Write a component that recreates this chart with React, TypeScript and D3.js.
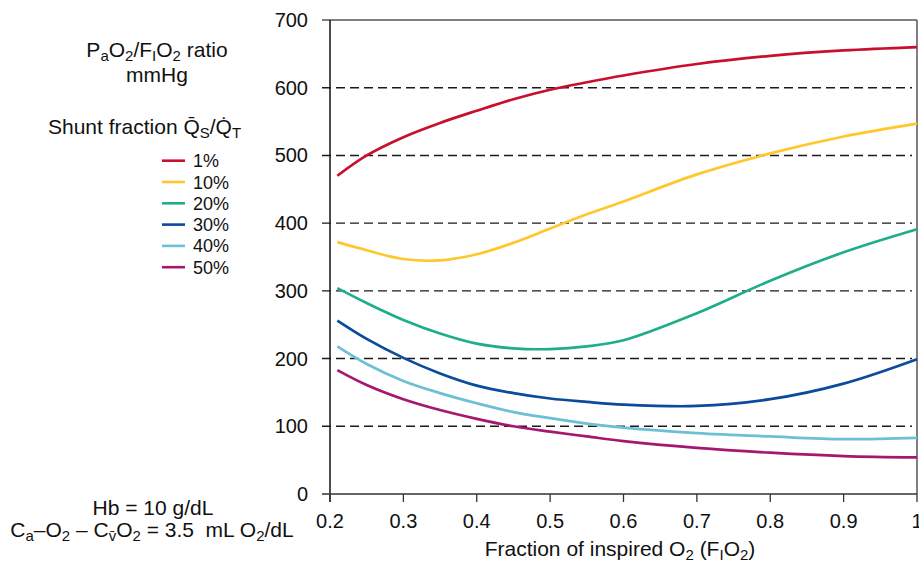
import React from "react";
import * as d3 from "d3";

// FiO2 sample points where the curves were read
const fio2 = [0.21, 0.25, 0.3, 0.35, 0.4, 0.45, 0.5, 0.55, 0.6, 0.7, 0.8, 0.9, 1.0];

// PaO2/FiO2 ratio (mmHg) read per shunt fraction
const shunt1 = [470, 500, 527, 548, 566, 583, 597, 608, 618, 635, 647, 655, 660];
const shunt10 = [372, 360, 347, 345, 354, 371, 392, 413, 432, 472, 503, 528, 547];
const shunt20 = [304, 282, 257, 237, 222, 215, 214, 218, 227, 267, 315, 357, 391];
const shunt30 = [256, 229, 201, 178, 160, 149, 141, 136, 132, 130, 140, 163, 199];
const shunt40 = [218, 192, 167, 149, 134, 121, 112, 104, 98, 90, 85, 81, 83];
const shunt50 = [183, 161, 140, 124, 111, 100, 92, 85, 78, 68, 61, 56, 54];

const seriesLabels = ["1%", "10%", "20%", "30%", "40%", "50%"];
const seriesValues = [shunt1, shunt10, shunt20, shunt30, shunt40, shunt50];
const seriesColors = ["#c8102e", "#ffc72c", "#1fae8a", "#0b4a9c", "#6cc0d6", "#a6176f"];

const xTicks = [0.2, 0.3, 0.4, 0.5, 0.6, 0.7, 0.8, 0.9, 1];
const yTicks = [0, 100, 200, 300, 400, 500, 600, 700];
const gridValues = [100, 200, 300, 400, 500, 600];

const W = 919;
const H = 563;
const font = "'Liberation Sans', Arial, Helvetica, sans-serif";
const sub = 15;

export default function App() {
  const x = d3.scaleLinear().domain([0.2, 1]).range([330, 917]);
  const y = d3.scaleLinear().domain([0, 700]).range([494, 20]);

  const line = d3
    .line<[number, number]>()
    .x((d) => x(d[0]))
    .y((d) => y(d[1]))
    .curve(d3.curveCatmullRom.alpha(0.5));

  const xLeft = x(0.2) - 8;
  const xRight = x(1);

  return (
    <svg
      width={W}
      height={H}
      style={{ position: "absolute", left: 0, top: 0, fontFamily: font }}
    >
      <rect width={W} height={H} fill="#fff" />

      {/* dashed grid */}
      {gridValues.map((v) => (
        <line
          key={v}
          x1={xLeft}
          x2={xRight - 5}
          y1={y(v)}
          y2={y(v)}
          stroke="#1a1a1a"
          strokeWidth={1.4}
          strokeDasharray="9,5"
        />
      ))}

      {/* frame */}
      <line x1={xLeft} x2={xRight} y1={y(700)} y2={y(700)} stroke="#555" strokeWidth={1.5} />
      <line x1={xRight} x2={xRight} y1={y(700)} y2={y(0)} stroke="#555" strokeWidth={1.5} />
      <line x1={x(0.2)} x2={x(0.2)} y1={y(700)} y2={y(0) + 8} stroke="#111" strokeWidth={1.5} />
      <line x1={xLeft} x2={xRight} y1={y(0)} y2={y(0)} stroke="#333" strokeWidth={1.5} />

      {/* x ticks */}
      {xTicks.map((t) => (
        <g key={t}>
          <line x1={x(t)} x2={x(t)} y1={y(0)} y2={y(0) + 8} stroke="#333" strokeWidth={1.3} />
          <text x={x(t)} y={528} textAnchor="middle" fontSize={20} fill="#111">
            {t === 1 ? "1" : t.toFixed(1)}
          </text>
        </g>
      ))}

      {/* y tick labels */}
      {yTicks.map((t) => (
        <text key={t} x={308} y={y(t) + 7} textAnchor="end" fontSize={20} fill="#111">
          {t}
        </text>
      ))}

      {/* curves */}
      {seriesValues.map((vals, i) => (
        <path
          key={seriesLabels[i]}
          d={line(fio2.map((f, j) => [f, vals[j]] as [number, number])) || ""}
          fill="none"
          stroke={seriesColors[i]}
          strokeWidth={2.7}
        />
      ))}

      {/* y title */}
      <text x={157} y={57} textAnchor="middle" fontSize={21} fill="#111">
        P<tspan fontSize={sub} dy={4}>a</tspan>
        <tspan dy={-4}>O</tspan>
        <tspan fontSize={sub} dy={4}>2</tspan>
        <tspan dy={-4}>/F</tspan>
        <tspan fontSize={sub} dy={4}>I</tspan>
        <tspan dy={-4}>O</tspan>
        <tspan fontSize={sub} dy={4}>2</tspan>
        <tspan dy={-4}> ratio</tspan>
      </text>
      <text x={157} y={82} textAnchor="middle" fontSize={21} fill="#111">
        mmHg
      </text>

      {/* legend */}
      <text x={48} y={134} fontSize={21} fill="#111">
        Shunt fraction Q̄<tspan fontSize={sub} dy={4}>S</tspan>
        <tspan dy={-4}>/Q̇</tspan>
        <tspan fontSize={sub} dy={4}>T</tspan>
      </text>
      {seriesLabels.map((lab, i) => (
        <g key={lab} transform={`translate(162,${160.7 + i * 21.3})`}>
          <line x1={0} x2={23} y1={0} y2={0} stroke={seriesColors[i]} strokeWidth={2.6} />
          <text x={31} y={6.5} fontSize={18} fill="#111">
            {lab}
          </text>
        </g>
      ))}

      {/* bottom-left notes */}
      <text x={153} y={515} textAnchor="middle" fontSize={21} fill="#111">
        Hb = 10 g/dL
      </text>
      <text x={152} y={537} textAnchor="middle" fontSize={21} fill="#111">
        C<tspan fontSize={sub} dy={4}>a</tspan>
        <tspan dy={-4}>–O</tspan>
        <tspan fontSize={sub} dy={4}>2</tspan>
        <tspan dy={-4}> – C</tspan>
        <tspan fontSize={sub} dy={4}>v̄</tspan>
        <tspan dy={-4}>O</tspan>
        <tspan fontSize={sub} dy={4}>2</tspan>
        <tspan dy={-4}>{" = 3.5\u00a0 mL O"}</tspan>
        <tspan fontSize={sub} dy={4}>2</tspan>
        <tspan dy={-4}>/dL</tspan>
      </text>

      {/* x title */}
      <text x={620} y={556} textAnchor="middle" fontSize={21} fill="#111">
        Fraction of inspired O<tspan fontSize={sub} dy={4}>2</tspan>
        <tspan dy={-4}> (F</tspan>
        <tspan fontSize={sub} dy={4}>I</tspan>
        <tspan dy={-4}>O</tspan>
        <tspan fontSize={sub} dy={4}>2</tspan>
        <tspan dy={-4}>)</tspan>
      </text>
    </svg>
  );
}
